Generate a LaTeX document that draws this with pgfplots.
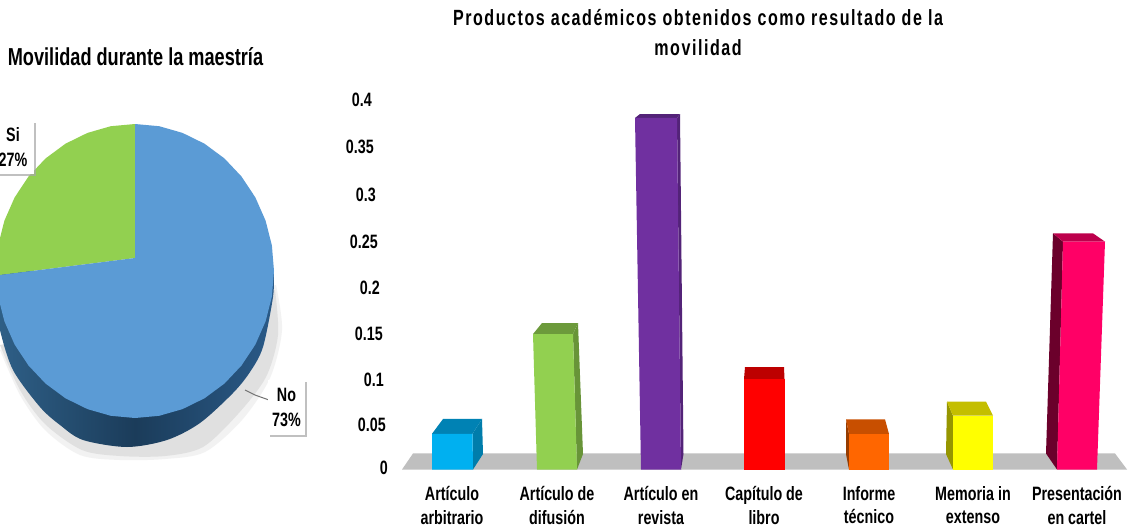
\documentclass[border=0pt]{standalone}
\usepackage{fontspec}
\usepackage{pgfplots}
\pgfplotsset{compat=1.18}
\usetikzlibrary{shadows}
\setmainfont{Liberation Sans}[FakeStretch=0.74]
\newfontfamily\titlefont{Liberation Sans Bold}[LetterSpace=7,FakeStretch=0.73]

% 1 pixel of the reference = 0.75pt
\newdimen\PX \PX=0.75pt
\newcommand\yl[3]{\smash{\raisebox{#1\PX}{#3}}\kern#2\PX}
\newcommand\lab{\fontsize{14.5}{17.3}\selectfont\bfseries}

\definecolor{pieblue}{HTML}{5B9BD5}
\definecolor{piegreen}{HTML}{92D050}
\definecolor{pieside}{HTML}{1B3C5A}
\definecolor{piesidel}{HTML}{2F6088}
\definecolor{piesider}{HTML}{2A5A88}
\definecolor{floor}{HTML}{BFBFBF}
\definecolor{cyanf}{HTML}{00B0F0}
\definecolor{cyant}{HTML}{0082B4}
\definecolor{cyans}{HTML}{007DAB}
\definecolor{greent}{HTML}{6C9A3B}
\definecolor{greens}{HTML}{689438}
\definecolor{purplef}{HTML}{7030A0}
\definecolor{purplet}{HTML}{532378}
\definecolor{redf}{HTML}{FF0000}
\definecolor{redt}{HTML}{BD0000}
\definecolor{orangef}{HTML}{FF6600}
\definecolor{oranget}{HTML}{C84F00}
\definecolor{oranges}{HTML}{963C00}
\definecolor{yellowf}{HTML}{FFFF00}
\definecolor{yellowt}{HTML}{C4BE00}
\definecolor{yellows}{HTML}{969600}
\definecolor{pinkf}{HTML}{FF0066}
\definecolor{pinkt}{HTML}{BD004C}
\definecolor{pinks}{HTML}{6B002B}

\pgfplotsset{poly/.style={draw=none,fill=#1},every axis title shift=0pt}

\begin{document}
\begin{tikzpicture}
\path[use as bounding box,fill=white] (0,0) rectangle (846.75pt,396.75pt);

% pie, in pixel coordinates of the reference
\begin{axis}[
    at={(0pt,0pt)},anchor=south west,
    x=0.75pt,y=0.75pt,
    xmin=0,xmax=330,ymin=0,ymax=529,y dir=reverse,
    axis line style={draw=none},ticks=none,
    title={\bfseries Movilidad durante la maestría},
    title style={at={(axis cs:135.5,57)},anchor=center,inner sep=0pt,font=\fontsize{18.4}{22}\selectfont},
]
\addplot[smooth,poly=black!5] coordinates {(276,285)(282,330)(270,378)(242,420)(205,452)(165,459)(120,460)(80,455)(45,430)(20,395)(0,350)};
\addplot[smooth,poly=black!12] coordinates {(275,290)(278,335)(266,377)(238,414)(203,447)(165,456)(120,456)(82,450)(45,424)(20,390)(0,345)};
\addplot[smooth,draw=none,left color=piesidel,right color=piesider,middle color=pieside] coordinates {(274,271)(273,297)(263,347)(250,372)(233,393)(200,423)(167,440)(127,447)(83,440)(60,425)(40,407)(13,370)(0,330)(-4,300)(-4,271)};
\addplot[poly=piegreen] coordinates {(135,258)(-4,275.5)(-4,271)(-1.9,245.5)(4.4,220.7)(14.6,197.5)(28.5,176.5)(45.6,158.4)(65.5,143.7)(87.5,132.9)(110.8,126.2)(135,124)};
\addplot[poly=pieblue] coordinates {(135,258)(135,124)(159.2,126.2)(182.5,132.9)(204.5,143.7)(224.4,158.4)(241.5,176.5)(255.4,197.5)(265.6,220.7)(271.9,245.5)(274,271)(271.9,296.5)(265.6,321.3)(255.4,344.5)(241.5,365.5)(224.4,383.6)(204.5,398.3)(182.5,409.1)(159.2,415.8)(135,418)(110.8,415.8)(87.5,409.1)(65.5,398.3)(45.6,383.6)(28.5,365.5)(14.6,344.5)(4.4,321.3)(-1.9,296.5)(-4,275.5)};
\addplot[draw=black!55,line width=0.75pt] coordinates {(245,390)(255,395)(269,400)};
\node[fill=white,align=center,inner sep=0pt,minimum width=37\PX,minimum height=55\PX,font=\lab,
      drop shadow={shadow xshift=1.5pt,shadow yshift=-1.5pt,fill=black!35,opacity=0.7}]
    at (axis cs:286.5,407.5) {No\\[2\PX]73\%};
\node[fill=white,align=center,inner sep=0pt,minimum width=42\PX,minimum height=53\PX,font=\lab,
      drop shadow={shadow xshift=1.5pt,shadow yshift=-1.5pt,fill=black!35,opacity=0.7}]
    at (axis cs:13,147.5) {Si\\[2\PX]27\%};
\end{axis}

% bars: front faces carry the values, top and side faces give the depth
\begin{axis}[
    at={(300pt,44.625pt)},anchor=south west,
    x=0.75pt,y=686.25pt,
    xmin=400,xmax=1129,ymin=0,ymax=0.42,
    axis line style={draw=none},
    major tick length=0pt,
    title={Productos académicos obtenidos como resultado de la\\movilidad},
    title style={at={(0.4088,1.136)},anchor=center,align=center,inner sep=0pt,font=\fontsize{16.5}{22.5}\selectfont\titlefont},
    xtick={452,557,661,764,869,973,1077},
    xticklabels={{Artículo\\arbitrario},{Artículo de\\difusión},{Artículo en\\revista},{Capítulo de\\libro},{Informe\\técnico},{Memoria in\\extenso},{Presentación\\en cartel}},
    xticklabel style={align=center,font=\lab,anchor=north,inner sep=0pt,yshift=-17\PX},
    ytick={0,0.05,0.1,0.15,0.2,0.25,0.3,0.35,0.4},
    yticklabels={\yl{1.5}{0}{0},\yl{-1}{2}{0.05},\yl{-2}{4}{0.1},\yl{-2}{5}{0.15},\yl{-1.5}{8}{0.2},\yl{-1}{10}{0.25},\yl{0}{12}{0.3},\yl{2}{14}{0.35},\yl{3.5}{16}{0.4}},
    yticklabel style={font=\lab,anchor=east,inner sep=0pt,xshift=-12\PX,text height=10pt,text depth=0pt},
]
\addplot[poly=floor] coordinates {(402,0)(1127,0)(1115,0.0175)(413,0.0175)};

% Artículo arbitrario
\addplot[poly=cyans] coordinates {(473,0)(472.5,0.039)(482,0.0552)(483,0.0169)};
\addplot[poly=cyant] coordinates {(432,0.039)(443,0.0552)(482,0.0552)(472.5,0.039)};
\addplot[poly=cyanf] coordinates {(432,0)(432,0.039)(472.5,0.039)(473,0)};

% Artículo de difusión
\addplot[poly=greens] coordinates {(577,0)(573,0.148)(578,0.1601)(583,0.0169)};
\addplot[poly=greent] coordinates {(533,0.148)(542,0.1601)(578,0.1601)(573,0.148)};
\addplot[poly=piegreen] coordinates {(537,0)(533,0.148)(573,0.148)(577,0)};

% Artículo en revista
\addplot[poly=purplet] coordinates {(681,0)(677,0.3842)(680,0.3885)(683.5,0.0169)};
\addplot[poly=purplet] coordinates {(635,0.3842)(640,0.3885)(680,0.3885)(677,0.3842)};
\addplot[poly=purplef] coordinates {(641,0)(635,0.3842)(677,0.3842)(681,0)};

% Capítulo de libro
\addplot[poly=redt] coordinates {(744,0.099)(745,0.112)(784,0.112)(784.5,0.099)};
\addplot[poly=redf] coordinates {(744,0)(744,0.099)(784.5,0.099)(784.5,0)};

% Informe técnico
\addplot[poly=oranges] coordinates {(849,0)(849,0.0388)(846,0.0549)(846,0.0169)};
\addplot[poly=oranget] coordinates {(849,0.0388)(846,0.0549)(885,0.0549)(889,0.0388)};
\addplot[poly=orangef] coordinates {(849,0)(849,0.0388)(889,0.0388)(889,0)};

% Memoria in extenso
\addplot[poly=yellows] coordinates {(953,0)(953,0.0588)(947,0.0741)(946,0.0169)};
\addplot[poly=yellowt] coordinates {(953,0.0588)(947,0.0741)(986,0.0741)(993,0.0588)};
\addplot[poly=yellowf] coordinates {(953,0)(953,0.0588)(993,0.0588)(993,0)};

% Presentación en cartel
\addplot[poly=pinks] coordinates {(1057,0)(1063,0.249)(1053,0.2581)(1046,0.0175)};
\addplot[poly=pinkt] coordinates {(1063,0.249)(1053,0.2581)(1093,0.2581)(1105,0.249)};
\addplot[poly=pinkf] coordinates {(1057,0)(1063,0.249)(1105,0.249)(1097,0)};
\end{axis}
\end{tikzpicture}
\end{document}
